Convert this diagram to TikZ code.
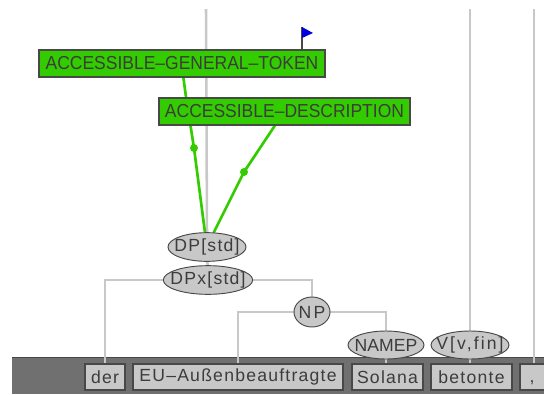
\documentclass[tikz,border=0pt]{standalone}
\usepackage{fontspec}
\setmainfont{Liberation Sans}
\newfontfamily\spacedfont[LetterSpace=7]{Liberation Sans}
\newfontfamily\widefont[LetterSpace=12]{Liberation Sans}
\newfontfamily\plainfont{Liberation Sans}
\newfontfamily\conceptfont[FakeStretch=0.93]{Liberation Sans}
\usetikzlibrary{shapes.geometric}
\pgfdeclarelayer{backdrop}
\pgfdeclarelayer{links}
\pgfsetlayers{backdrop,links,main}
\definecolor{bandgray}{HTML}{707070}
\definecolor{nodegray}{HTML}{C8C8C8}
\definecolor{edgegray}{HTML}{484848}
\definecolor{linkgray}{HTML}{C8C8C8}
\definecolor{conceptgreen}{HTML}{33CC00}
\definecolor{inkgray}{HTML}{3C3C3C}
\newcommand{\zerowide}[1]{\makebox[0pt][c]{#1}}
\tikzset{
  x=0.75pt,y=-0.75pt,
  every node/.style={inner sep=0pt,outer sep=0pt,text=inkgray},
  concept/.style={rectangle,draw=edgegray,line width=1.5pt,fill=conceptgreen,minimum height=20.5pt,font=\conceptfont\fontsize{14.1}{14}\selectfont},
  phrase/.style={ellipse,draw=edgegray,line width=0.7pt,fill=nodegray,font=\spacedfont\fontsize{13.2}{14}\selectfont},
  word/.style={rectangle,draw=edgegray,line width=1.5pt,fill=nodegray,minimum height=19.5pt,font=\spacedfont\fontsize{13.2}{14}\selectfont},
  treeline/.style={draw=linkgray,line width=1.9pt},
  greenline/.style={draw=conceptgreen,line width=2pt},
  knot/.style={circle,fill=conceptgreen,minimum size=6pt}
}
\begin{document}
\begin{tikzpicture}
\useasboundingbox (0,0) rectangle (544,394);
\begin{pgfonlayer}{backdrop}
\fill[white] (0,0) rectangle (544,394);
\fill[bandgray] (12,357) rectangle (544,394);
\draw[edgegray,line width=1pt] (12,357.5) -- (544,357.5);
\end{pgfonlayer}
\coordinate (topa) at (206,9);
\coordinate (topb) at (470,9);
\coordinate (topc) at (534,9);
\coordinate (flagtop) at (302,27);
\coordinate (flagtip) at (313,33);
\coordinate (flagend) at (302,38);
\coordinate (gtknot) at (194,148);
\coordinate (gtbend) at (186,97);
\coordinate (adknot) at (244,172);
% word boxes
\node[word,minimum width=30pt] (der) at (105,377) {der};
\node[word,minimum width=157.5pt] (eu) at (238,377) {EU–Außenbeauftragte};
\node[word,minimum width=53pt] (solana) at (387.5,377) {Solana};
\node[word,minimum width=60.5pt] (betonte) at (471.5,377) {betonte};
\node[word,minimum width=40pt,anchor=west] (comma) at (520,377) {\hspace{-22pt}\vphantom{d},};
% phrase nodes
\node[phrase,minimum width=58.5pt,minimum height=21.5pt] (dp) at (207,247) {\zerowide{DP[std]}};
\node[phrase,minimum width=67pt,minimum height=21.5pt] (dpx) at (208,280) {\zerowide{DPx[std]}};
\node[phrase,minimum width=27pt,minimum height=22.5pt] (np) at (312,312) {\zerowide{\widefont\fontsize{13.2}{14}\selectfont NP}};
\node[phrase,minimum width=57pt,minimum height=21pt] (namep) at (386,345) {\zerowide{\plainfont\fontsize{13.2}{14}\selectfont NAMEP}};
\node[phrase,minimum width=58.5pt,minimum height=21pt] (vfin) at (470,345) {\zerowide{\widefont\fontsize{13.2}{14}\selectfont V[v,fin]}};
% concept boxes
\node[concept,minimum width=215pt] (agt) at (182,63.5) {ACCESSIBLE–GENERAL–TOKEN};
\node[concept,minimum width=188pt] (ad) at (284.5,111.5) {ACCESSIBLE–DESCRIPTION};
% connectors
\begin{pgfonlayer}{links}
\draw[treeline] (topa) -- (dp.north);
\draw[treeline] (dp.south) -- (dpx.north);
\draw[treeline] (dpx.west) -| (der.north);
\draw[treeline] (dpx.east) -| (np.north);
\draw[treeline] (np.west) -| (eu.north);
\draw[treeline] (np.east) -| (namep.north);
\draw[treeline] (namep.south) -- (namep.south |- solana.north);
\draw[treeline] (topb) -- (vfin.north);
\draw[treeline] (vfin.south) -- (vfin.south |- betonte.north);
\draw[treeline] (topc) -- (topc |- comma.north);
\draw[greenline] ([xshift=1pt]agt.south) -- (gtbend) -- (gtknot) -- ([xshift=-1.5pt]dp.north);
\draw[greenline] ([xshift=-7pt]ad.south) -- (adknot) -- ([xshift=5pt]dp.north);
\node[knot] at (gtknot) {};
\node[knot] at (adknot) {};
\draw[edgegray,line width=1pt] (agt.north -| flagtop) -- (flagtop);
\fill[blue!85!black] (flagtop) -- (flagtip) -- (flagend) -- cycle;
\end{pgfonlayer}
\end{tikzpicture}
\end{document}
